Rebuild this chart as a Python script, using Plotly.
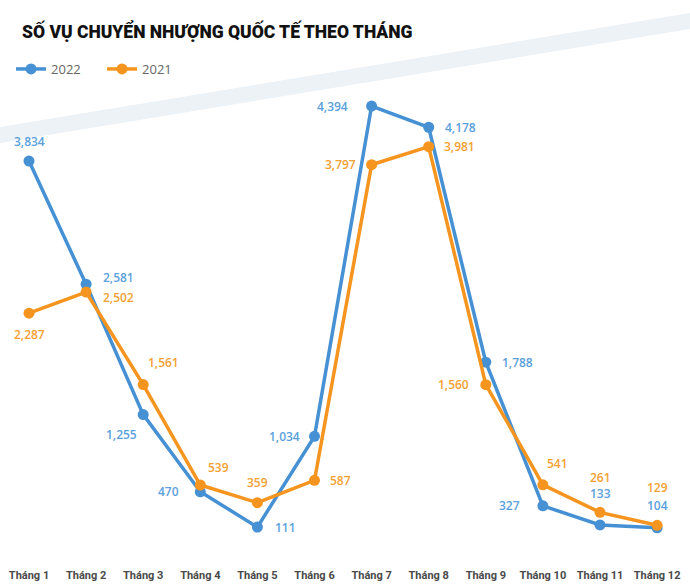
import plotly.graph_objects as go

months = ["Tháng 1", "Tháng 2", "Tháng 3", "Tháng 4", "Tháng 5", "Tháng 6",
          "Tháng 7", "Tháng 8", "Tháng 9", "Tháng 10", "Tháng 11", "Tháng 12"]
v2022 = [3834, 2581, 1255, 470, 111, 1034, 4394, 4178, 1788, 327, 133, 104]
v2021 = [2287, 2502, 1561, 539, 359, 587, 3797, 3981, 1560, 541, 261, 129]

# label offsets (pixels) relative to each point
off2022 = [(0, 20), (32, 7), (-22, -20), (-32, 0), (28, 0), (-30, 0),
           (-39, 0), (32, 0), (32, 0), (-33, 0), (0, 31), (0, 22)]
off2021 = [(0, -21), (32, -5), (20, 22), (18, 18), (0, 20), (26, 0),
           (-31, 0), (31, 0), (-32, 0), (15, 21), (0, 35), (0, 38)]

BLUE = "#4690d4"
ORANGE = "#f5951f"
BLUE_T = "#5b9fdc"
ORANGE_T = "#f4a033"

xs = list(range(len(months)))

fig = go.Figure()
fig.add_trace(go.Scatter(x=xs, y=v2022, mode="lines+markers", name="2022",
                         line=dict(color=BLUE, width=3.5),
                         marker=dict(color=BLUE, size=11)))
fig.add_trace(go.Scatter(x=xs, y=v2021, mode="lines+markers", name="2021",
                         line=dict(color=ORANGE, width=3.5),
                         marker=dict(color=ORANGE, size=11)))

ann = []
for vals, offs, col in ((v2022, off2022, BLUE_T), (v2021, off2021, ORANGE_T)):
    for i, v in enumerate(vals):
        ann.append(dict(x=xs[i], y=v, xref="x", yref="y", text=f"{v:,}",
                        showarrow=False, xshift=offs[i][0], yshift=offs[i][1],
                        font=dict(family="Open Sans", size=12, color=col, weight=600)))

# plot area spans pixel rows 90..567 (height 477)
def py(p):
    return (567 - p) / 477

fig.update_layout(
    width=690, height=587,
    margin=dict(l=0, r=0, t=90, b=20),
    paper_bgcolor="white", plot_bgcolor="rgba(0,0,0,0)",
    title=dict(text="SỐ VỤ CHUYỂN NHƯỢNG QUỐC TẾ THEO THÁNG",
               x=22 / 690, xanchor="left", y=1 - 32 / 587, yanchor="middle",
               font=dict(family="Roboto", size=17.5, color="#111111", weight=900)),
    showlegend=True,
    legend=dict(orientation="h", x=0.016, xanchor="left", y=1 - 69 / 587, yanchor="middle",
                yref="container", font=dict(family="Open Sans", size=13, color="#666666"),
                entrywidth=46, entrywidthmode="pixels",
                traceorder="normal", bgcolor="rgba(0,0,0,0)"),
    xaxis=dict(tickmode="array", tickvals=xs, ticktext=months,
               range=[-29 / 57.1, (690 - 29) / 57.1],
               showgrid=False, zeroline=False, showline=False, ticks="",
               tickfont=dict(family="Roboto", size=11, color="#4a4a4a", weight=700)),
    yaxis=dict(range=[-295, 4557], visible=False, showgrid=False, zeroline=False),
    annotations=ann,
    shapes=[dict(type="path", xref="paper", yref="paper", layer="below",
                 path=f"M 0 {py(127)} L 1 {py(13)} L 1 {py(29)} L 0 {py(143)} Z",
                 fillcolor="#edf2f7", line=dict(width=0))],
)

fig.write_html("out.html")
